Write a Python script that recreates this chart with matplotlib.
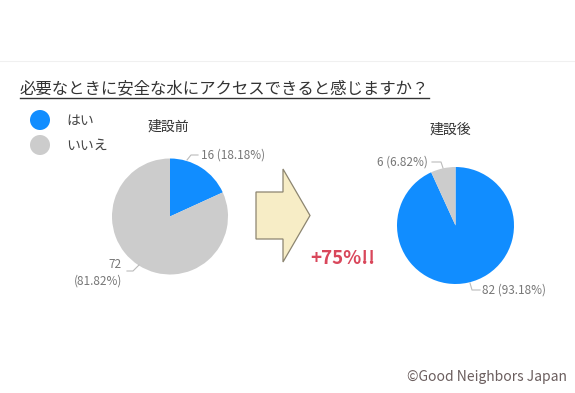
import matplotlib
matplotlib.use("Agg")
import matplotlib.pyplot as plt
from matplotlib.patches import Circle, Polygon

plt.rcParams['font.family'] = ['Noto Sans CJK JP', 'DejaVu Sans']

# データ
categories = ['はい', 'いいえ']
before_counts = [16, 72]
after_counts = [82, 6]
colors = ['#118dff', '#cccccc']
question = '必要なときに安全な水にアクセスできると感じますか？'
before_title = '建設前'
after_title = '建設後'
increase_text = '+75%!!'
credit = '©Good Neighbors Japan'

W, H = 575, 393
fig = plt.figure(figsize=(W / 100, H / 100), dpi=100)

# ピクセル座標のオーバーレイ
ov = fig.add_axes([0, 0, 1, 1], zorder=5)
ov.set_xlim(0, W)
ov.set_ylim(H, 0)
ov.axis('off')
ov.patch.set_alpha(0)


def add_pie(cx, cy, r, counts):
    ax = fig.add_axes([(cx - r) / W, 1 - (cy + r) / H, 2 * r / W, 2 * r / H])
    ax.pie(counts, colors=colors, startangle=90, counterclock=False,
           wedgeprops=dict(linewidth=0))
    ax.set_xlim(-1, 1)
    ax.set_ylim(-1, 1)
    return ax


def label(n, total):
    return f'{n} ({n / total * 100:.2f}%)'


add_pie(170, 216.5, 58, before_counts)
add_pie(455.5, 225.5, 58.5, after_counts)

# 上部の薄い線
ov.plot([0, W], [61, 61], color='#f0f0f0', lw=0.8)

# タイトル（下線付き）
t = ov.text(20, 89, question, fontsize=11.8, color='#333333', va='center', ha='left')
fig.canvas.draw()
bb = t.get_window_extent().transformed(ov.transData.inverted())
ov.plot([bb.x0, bb.x1], [97.5, 97.5], color='#333333', lw=1)

# 凡例
for i, (cat, c) in enumerate(zip(categories, colors)):
    y = 120 + i * 25
    ov.add_patch(Circle((40, y), 10, color=c, lw=0))
    ov.text(66, y + 1, cat, fontsize=10, color='#444444', va='center')

ov.text(148, 127, before_title, fontsize=10, color='#333333', va='center')
ov.text(430, 130, after_title, fontsize=10, color='#333333', va='center')

# 矢印
arrow = Polygon([(256, 192), (283, 192), (283, 169), (310, 215.5),
                 (283, 262), (283, 239), (256, 239)],
                closed=True, facecolor='#f7edc6', edgecolor='#8c8570', lw=0.9)
ov.add_patch(arrow)

ov.text(310, 259, increase_text, fontsize=13.5, fontweight='bold',
        color='#d9475b', va='center', ha='left')

# データラベル
lc = '#777777'
lcol = '#bbbbbb'
fs = 8.5
tb = sum(before_counts)
ta = sum(after_counts)
ov.plot([187, 191, 198], [160, 155, 155], color=lcol, lw=0.8)
ov.text(201, 155, label(before_counts[0], tb), fontsize=fs, color=lc, va='center')
ov.plot([127, 133, 139], [271, 271, 265], color=lcol, lw=0.8)
ov.text(122, 265, str(before_counts[1]), fontsize=fs, color=lc, va='center', ha='right')
ov.text(122, 281, f'({before_counts[1] / tb * 100:.2f}%)', fontsize=fs, color=lc,
        va='center', ha='right')

ov.plot([432, 441, 443], [162, 162, 168], color=lcol, lw=0.8)
ov.text(428, 162, label(after_counts[1], ta), fontsize=fs, color=lc, va='center', ha='right')
ov.plot([470, 472, 480], [283, 290, 290], color=lcol, lw=0.8)
ov.text(482, 290, label(after_counts[0], ta), fontsize=fs, color=lc, va='center')

ov.text(567, 377, credit, fontsize=10, color='#6b5e5e', va='center', ha='right')

fig.savefig('out.png', dpi=100)
